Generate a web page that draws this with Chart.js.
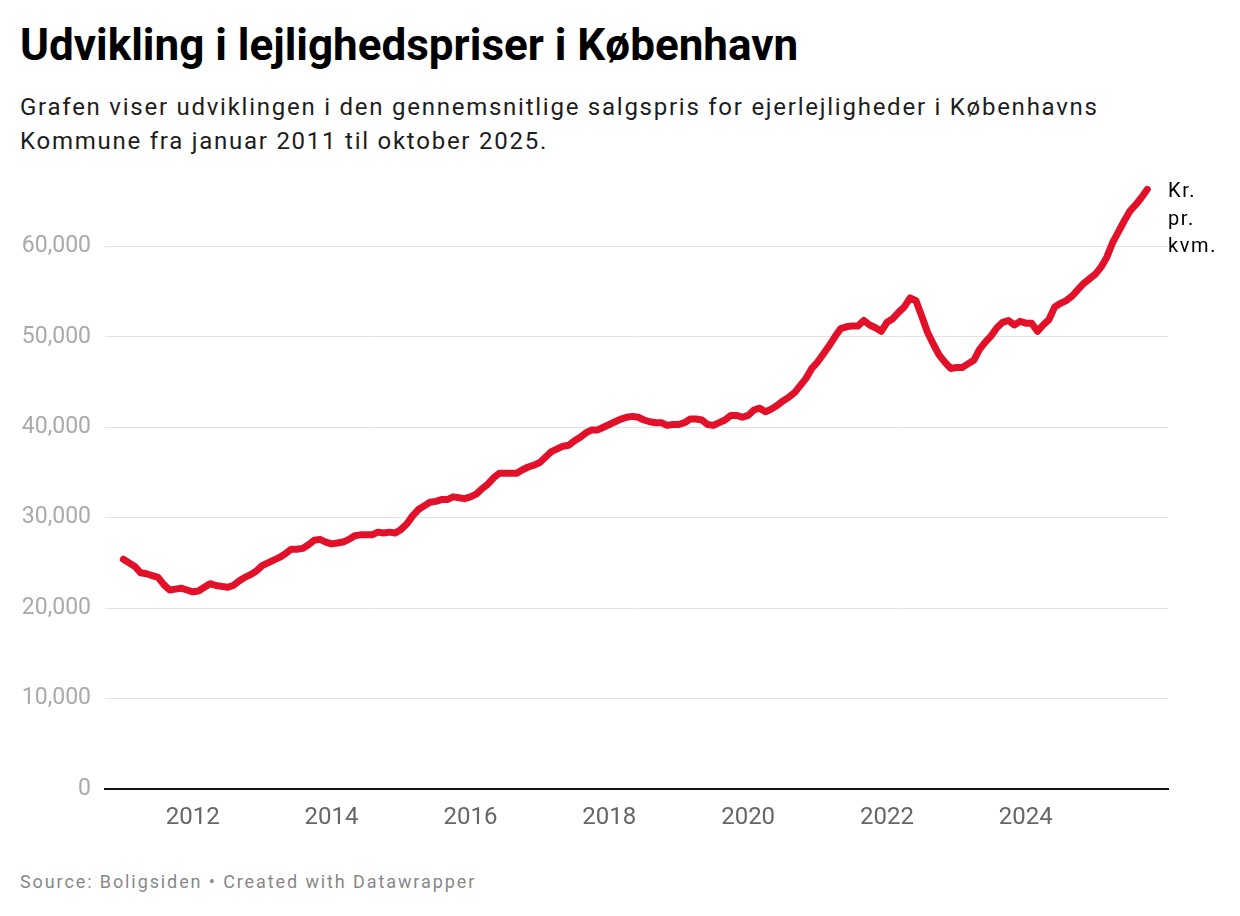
<!DOCTYPE html>
<html lang="da">

<head>
    <meta charset="UTF-8">
    <title>Udvikling i lejlighedspriser i København</title>
    <script src="https://cdn.jsdelivr.net/npm/chart.js"></script>
    <style>
        body {
            margin: 0;
            background: #fff;
            font-family: Roboto, "Noto Sans", sans-serif;
        }

        .page {
            position: relative;
            width: 1240px;
            height: 916px;
            overflow: hidden;
        }

        h1 {
            position: absolute;
            left: 20px;
            top: 19px;
            margin: 0;
            font-size: 44px;
            font-weight: 700;
            line-height: 52px;
            color: #000;
        }

        .subtitle {
            position: absolute;
            left: 20px;
            top: 90px;
            margin: 0;
            font-size: 24px;
            line-height: 34px;
            letter-spacing: 1.75px;
            color: #1d1d1d;
        }

        .unit {
            position: absolute;
            left: 1168px;
            top: 177px;
            font-size: 20px;
            line-height: 27.5px;
            letter-spacing: 1.6px;
            color: #000;
        }

        .source {
            position: absolute;
            left: 20px;
            top: 871px;
            font-size: 18px;
            letter-spacing: 1.9px;
            color: #888;
        }

        .chart-box {
            position: absolute;
            left: 0;
            top: 160px;
            width: 1240px;
            height: 680px;
        }
    </style>
</head>

<body>
    <div class="page">
        <h1>Udvikling i lejlighedspriser i København</h1>
        <p class="subtitle">Grafen viser udviklingen i den gennemsnitlige salgspris for ejerlejligheder i Københavns<br>Kommune fra januar 2011 til oktober 2025.</p>
        <div class="chart-box"><canvas id="lineChart" width="1240" height="680"></canvas></div>
        <div class="unit">Kr.<br>pr.<br>kvm.</div>
        <div class="source">Source: Boligsiden • Created with Datawrapper</div>
    </div>

    <script>
        // kr. pr. kvm., one value per month
        const START_YEAR = 2011;
        const y2011 = [25400, 25000, 24600, 23900, 23800, 23600, 23400, 22600, 22000, 22100, 22200, 22000];
        const y2012 = [21800, 21900, 22300, 22700, 22500, 22400, 22300, 22500, 23000, 23400, 23700, 24100];
        const y2013 = [24700, 25000, 25300, 25600, 26000, 26500, 26500, 26600, 27000, 27500, 27600, 27300];
        const y2014 = [27100, 27200, 27300, 27600, 28000, 28100, 28100, 28100, 28400, 28300, 28400, 28300];
        const y2015 = [28700, 29300, 30200, 30900, 31300, 31700, 31800, 32000, 32000, 32300, 32200, 32100];
        const y2016 = [32300, 32600, 33200, 33700, 34400, 34900, 34900, 34900, 34900, 35300, 35600, 35800];
        const y2017 = [36100, 36700, 37300, 37600, 37900, 38000, 38500, 38900, 39400, 39700, 39700, 40000];
        const y2018 = [40300, 40600, 40900, 41100, 41200, 41100, 40800, 40600, 40500, 40500, 40200, 40300];
        const y2019 = [40300, 40500, 40900, 40900, 40800, 40300, 40200, 40500, 40800, 41300, 41300, 41100];
        const y2020 = [41300, 41900, 42100, 41700, 42000, 42400, 42900, 43300, 43800, 44600, 45400, 46500];
        const y2021 = [47200, 48100, 49000, 50000, 50900, 51100, 51200, 51200, 51800, 51300, 51000, 50600];
        const y2022 = [51600, 52000, 52700, 53300, 54300, 54000, 52300, 50500, 49200, 48000, 47200, 46500];
        const y2023 = [46600, 46600, 47000, 47400, 48600, 49400, 50100, 51000, 51600, 51800, 51300, 51700];
        const y2024 = [51500, 51500, 50600, 51300, 51900, 53300, 53700, 54000, 54500, 55200, 55900, 56400];
        const y2025 = [56900, 57700, 58800, 60400, 61600, 62800, 63900, 64600, 65400, 66300];

        const xTicks = [2012, 2014, 2016, 2018, 2020, 2022, 2024];
        const yTicks = [0, 10000, 20000, 30000, 40000, 50000, 60000];

        const prices = [].concat(y2011, y2012, y2013, y2014, y2015, y2016, y2017,
            y2018, y2019, y2020, y2021, y2022, y2023, y2024, y2025);
        const points = prices.map((v, i) => ({ x: START_YEAR + i / 12, y: v }));

        function draw() {
            const ctx = document.getElementById("lineChart").getContext("2d");
            new Chart(ctx, {
                type: "line",
                data: {
                    datasets: [{
                        data: points,
                        borderColor: "#e3102a",
                        borderWidth: 7,
                        borderCapStyle: "round",
                        borderJoinStyle: "round",
                        pointRadius: 0,
                        tension: 0,
                        clip: false
                    }]
                },
                options: {
                    responsive: false,
                    animation: false,
                    devicePixelRatio: 1,
                    layout: {
                        autoPadding: false,
                        padding: { top: 23, right: 72, left: 0, bottom: 0 }
                    },
                    plugins: {
                        legend: { display: false },
                        tooltip: { enabled: false }
                    },
                    scales: {
                        x: {
                            type: "linear",
                            min: 2010.736,
                            max: 2026.048,
                            afterBuildTicks: s => { s.ticks = xTicks.map(v => ({ value: v })); },
                            afterFit: s => { s.height = 51; },
                            grid: { display: false, drawTicks: false },
                            border: { display: true, color: "#111", width: 2 },
                            ticks: {
                                autoSkip: false,
                                maxRotation: 0,
                                padding: 15,
                                color: "#666",
                                font: { family: "Roboto", size: 24 },
                                callback: v => String(v)
                            }
                        },
                        y: {
                            min: 0,
                            max: 67000,
                            afterBuildTicks: s => { s.ticks = yTicks.map(v => ({ value: v })); },
                            // fixed width, and no extra top padding for the labels
                            afterFit: s => { s.width = 105; s.paddingTop = 0; s.paddingBottom = 0; },
                            grid: { color: "#e2e2e2", lineWidth: 1, drawTicks: false },
                            border: { display: false },
                            ticks: {
                                autoSkip: false,
                                padding: 14,
                                color: "#aaa",
                                font: { family: "Roboto", size: 23 },
                                callback: v => v.toLocaleString("en-US")
                            }
                        }
                    }
                }
            });
        }

        document.fonts.load("24px Roboto").then(draw, draw);
    </script>
</body>

</html>
